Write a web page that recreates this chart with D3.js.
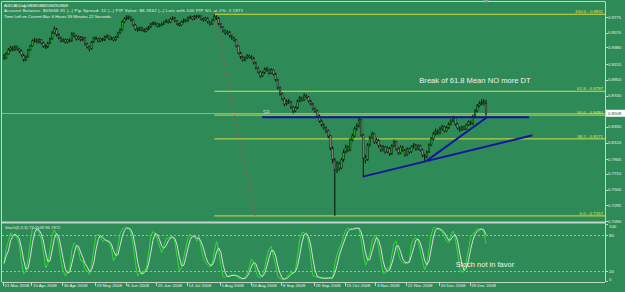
<!DOCTYPE html>
<html>
<head>
<meta charset="utf-8">
<script src="https://cdn.jsdelivr.net/npm/d3@7"></script>
<style>
  body { margin: 0; background: #2e8b57; }
  svg { display: block; font-family: "Liberation Sans", Arial, sans-serif; }
</style>
</head>
<body>
<div id="chart"></div>
<script>
// AUDCAD daily bars (open = previous close)
const firstOpen = 0.9262;
const closes = [
  .9236,.9288,.9341,.9367,.9341,.9380,.9354,.9328,.9275,.9209,
  .9249,.9341,.9394,.9459,.9473,.9446,.9473,.9433,.9394,.9380,
  .9433,.9486,.9565,.9617,.9538,.9499,.9459,.9473,.9446,.9473,
  .9459,.9552,.9525,.9486,.9512,.9473,.9499,.9420,.9380,.9354,
  .9446,.9499,.9486,.9459,.9486,.9473,.9512,.9525,.9486,.9499,
  .9473,.9512,.9565,.9604,.9709,.9749,.9775,.9762,.9736,.9670,
  .9617,.9604,.9631,.9604,.9591,.9617,.9644,.9683,.9696,.9683,
  .9657,.9670,.9683,.9709,.9723,.9709,.9749,.9762,.9723,.9683,
  .9670,.9709,.9736,.9723,.9762,.9775,.9749,.9788,.9775,.9788,
  .9749,.9736,.9762,.9709,.9683,.9736,.9775,.9762,.9683,.9644,
  .9591,.9565,.9578,.9525,.9499,.9473,.9394,.9302,.9249,.9209,
  .9236,.9262,.9249,.9236,.9170,.9104,.9051,.8999,.9038,.9091,
  .9078,.9038,.9078,.9025,.8946,.8841,.8762,.8696,.8630,.8670,
  .8657,.8591,.8538,.8578,.8670,.8709,.8683,.8736,.8722,.8670,
  .8630,.8565,.8538,.8472,.8407,.8354,.8315,.8275,.8209,.8051,
  .7893,.7762,.7841,.7788,.7893,.7999,.8064,.8025,.8157,.8209,
  .8301,.8341,.8420,.8222,.7920,.7893,.8091,.8183,.8236,.8130,
  .8157,.8078,.8025,.8064,.7999,.8051,.7972,.8078,.8130,.8038,
  .7986,.8064,.8025,.7959,.8038,.7999,.8064,.8091,.8038,.8078,
  .8025,.7959,.7933,.7999,.8091,.8170,.8236,.8275,.8249,.8301,
  .8328,.8275,.8315,.8367,.8407,.8446,.8367,.8315,.8288,.8328,
  .8301,.8354,.8393,.8367,.8472,.8538,.8604,.8630,.8657,.8639,
  .8508
];
const highs = [
  .9290,.9310,.9365,.9395,.9390,.9402,.9398,.9370,.9345,.9290,
  .9270,.9355,.9410,.9480,.9500,.9490,.9495,.9485,.9450,.9415,
  .9450,.9505,.9590,.9650,.9630,.9560,.9515,.9495,.9490,.9490,
  .9495,.9575,.9570,.9540,.9530,.9525,.9520,.9510,.9435,.9395,
  .9460,.9515,.9520,.9500,.9505,.9500,.9530,.9545,.9535,.9515,
  .9510,.9530,.9580,.9625,.9730,.9770,.9800,.9795,.9780,.9750,
  .9685,.9640,.9650,.9645,.9625,.9635,.9660,.9700,.9715,.9715,
  .9695,.9690,.9700,.9725,.9745,.9740,.9765,.9785,.9775,.9735,
  .9700,.9725,.9755,.9750,.9780,.9795,.9785,.9800,.9805,.9802,
  .9795,.9765,.9778,.9770,.9720,.9750,.9811,.9795,.9770,.9695,
  .9655,.9610,.9600,.9590,.9540,.9515,.9485,.9405,.9320,.9265,
  .9255,.9285,.9280,.9270,.9250,.9185,.9120,.9065,.9060,.9110,
  .9120,.9095,.9100,.9090,.9040,.8960,.8860,.8780,.8715,.8690,
  .8695,.8670,.8605,.8600,.8690,.8735,.8725,.8770,.8755,.8735,
  .8685,.8645,.8585,.8555,.8490,.8425,.8375,.8335,.8295,.8225,
  .8070,.7920,.7880,.7870,.7920,.8030,.8095,.8085,.8180,.8240,
  .8330,.8375,.8459,.8435,.8240,.7960,.8115,.8215,.8265,.8250,
  .8185,.8170,.8095,.8090,.8080,.8075,.8065,.8100,.8160,.8145,
  .8055,.8085,.8080,.8040,.8060,.8055,.8085,.8115,.8105,.8100,
  .8095,.8040,.7975,.8020,.8110,.8195,.8265,.8305,.8295,.8330,
  .8355,.8345,.8340,.8390,.8430,.8475,.8460,.8380,.8330,.8345,
  .8345,.8370,.8415,.8410,.8490,.8565,.8630,.8665,.8690,.8695,
  .8682
];
const lows = [
  .9210,.9220,.9275,.9320,.9325,.9330,.9335,.9300,.9255,.9185,
  .9195,.9240,.9330,.9385,.9440,.9430,.9430,.9415,.9370,.9355,
  .9365,.9420,.9475,.9550,.9520,.9480,.9440,.9445,.9425,.9430,
  .9440,.9450,.9505,.9465,.9470,.9455,.9460,.9400,.9360,.9320,
  .9345,.9435,.9470,.9440,.9445,.9455,.9460,.9495,.9470,.9470,
  .9455,.9460,.9500,.9550,.9595,.9695,.9730,.9740,.9715,.9650,
  .9595,.9580,.9590,.9585,.9570,.9575,.9600,.9630,.9665,.9665,
  .9640,.9640,.9655,.9670,.9695,.9690,.9695,.9735,.9705,.9665,
  .9650,.9655,.9695,.9705,.9710,.9745,.9730,.9735,.9755,.9760,
  .9730,.9715,.9720,.9690,.9660,.9670,.9725,.9740,.9665,.9625,
  .9570,.9540,.9545,.9505,.9475,.9450,.9375,.9285,.9225,.9190,
  .9195,.9220,.9230,.9215,.9150,.9085,.9030,.8975,.8985,.9025,
  .9055,.9015,.9025,.9005,.8925,.8820,.8740,.8675,.8600,.8610,
  .8630,.8565,.8505,.8520,.8565,.8655,.8660,.8670,.8700,.8650,
  .8610,.8545,.8510,.8450,.8385,.8330,.8290,.8250,.8180,.8020,
  .7850,.7157,.7720,.7750,.7770,.7870,.7980,.7995,.8010,.8135,
  .8190,.8280,.8320,.8200,.7669,.7850,.7880,.8070,.8160,.8105,
  .8110,.8055,.7995,.8005,.7975,.7985,.7945,.7960,.8060,.8015,
  .7960,.7970,.8000,.7935,.7945,.7975,.7985,.8045,.8015,.8020,
  .8005,.7935,.7880,.7915,.7985,.8075,.8150,.8215,.8225,.8230,
  .8280,.8255,.8260,.8300,.8350,.8390,.8345,.8295,.8265,.8275,
  .8285,.8290,.8340,.8350,.8355,.8455,.8520,.8585,.8615,.8610,
  .8474
];

// axis labels
const dateTickBars = [0, 13, 27, 42, 56, 70, 84, 99, 113, 127, 142, 156, 170, 184, 199, 213];
const dateTickLabels = ["21 Mar 2008", "10 Apr 2008", "30 Apr 2008", "19 May 2008", "6 Jun 2008",
  "25 Jun 2008", "14 Jul 2008", "1 Aug 2008", "20 Aug 2008", "8 Sep 2008", "26 Sep 2008",
  "15 Oct 2008", "3 Nov 2008", "21 Nov 2008", "10 Dec 2008", "29 Dec 2008"];
const priceTicks = [0.9775, 0.9570, 0.9380, 0.9155, 0.8950, 0.8740, 0.8330, 0.8120,
  0.7905, 0.7710, 0.7500, 0.7295, 0.7090];
const stochTicks = [100, 80, 20, 0];
const stochLevels = [80, 20];
const lastPrice = 0.8508;

// drawn objects
const fibLevels = [100, 61.8, 50, 38.2, 0];
const fibHigh = { bar: 96, price: 0.9811 };
const fibLow = { bar: 114.6, price: 0.7157 };
const srLine = { bar0: 117.8, bar1: 239.7, price: 0.8455 };
const trendLines = [
  { bar0: 163.8, p0: 0.7674, bar1: 241.2, p1: 0.8218 },
  { bar0: 193.0, p0: 0.7884, bar1: 220.4, p1: 0.8455 }
];

const W = 625, H = 292;
const left = 2, right = 605, mainTop = 2, mainBottom = 222, stochTop = 224, stochBottom = 282;

const svg = d3.select("#chart").append("svg")
  .attr("width", W)
  .attr("height", H);

svg.append("rect").attr("width", W).attr("height", H).attr("fill", "#2e8b57");

// scales
const x = d3.scaleLinear().domain([0, closes.length - 1]).range([4, 486]);
const y = d3.scaleLinear().domain([0.7090, 0.9775]).range([221, 17]);
const ys = d3.scaleLinear().domain([0, 100]).range([283, 223]);

const defs = svg.append("defs");
defs.append("clipPath").attr("id", "clipMain")
  .append("rect").attr("x", left).attr("y", mainTop).attr("width", right - left).attr("height", mainBottom - mainTop);
defs.append("clipPath").attr("id", "clipStoch")
  .append("rect").attr("x", left).attr("y", stochTop).attr("width", right - left).attr("height", stochBottom - stochTop);

const main = svg.append("g").attr("clip-path", "url(#clipMain)");

// bid line
main.append("line")
  .attr("x1", left).attr("x2", right)
  .attr("y1", Math.round(y(lastPrice)) + 0.5).attr("y2", Math.round(y(lastPrice)) + 0.5)
  .attr("stroke", "#98aaa6").attr("stroke-width", 1);

// fibonacci retracement
const fibRange = fibHigh.price - fibLow.price;
main.selectAll(".fib")
  .data(fibLevels)
  .enter().append("line")
  .attr("class", "fib")
  .attr("x1", x(fibHigh.bar)).attr("x2", right)
  .attr("y1", d => y(fibLow.price + fibRange * d / 100))
  .attr("y2", d => y(fibLow.price + fibRange * d / 100))
  .attr("stroke", "#d4dc48").attr("stroke-width", 1);

main.selectAll(".fib-label")
  .data(fibLevels)
  .enter().append("text")
  .attr("class", "fib-label")
  .attr("x", 603)
  .attr("y", d => y(fibLow.price + fibRange * d / 100) - 1.2)
  .attr("text-anchor", "end")
  .attr("font-size", 4.4)
  .attr("fill", "#e4e84a")
  .text(d => `${d.toFixed(1)} - ${(fibLow.price + fibRange * d / 100).toFixed(4)}`);

main.append("line")
  .attr("x1", x(fibHigh.bar)).attr("y1", y(fibHigh.price))
  .attr("x2", x(fibLow.bar)).attr("y2", y(fibLow.price))
  .attr("stroke", "#d0483c").attr("stroke-width", 1)
  .attr("stroke-dasharray", "1.2,2");

// candles
const bars = closes.map((c, i) => ({
  i: i,
  open: i ? closes[i - 1] : firstOpen,
  high: highs[i],
  low: lows[i],
  close: c
}));

const candle = main.selectAll(".bar")
  .data(bars)
  .enter().append("g")
  .attr("class", "bar");

candle.append("line")
  .attr("x1", d => x(d.i)).attr("x2", d => x(d.i))
  .attr("y1", d => y(d.high)).attr("y2", d => y(d.low))
  .attr("stroke", "#061006").attr("stroke-width", 1);

candle.append("rect")
  .attr("x", d => x(d.i) - 0.8)
  .attr("width", 1.6)
  .attr("y", d => y(Math.max(d.open, d.close)))
  .attr("height", d => Math.max(0.8, Math.abs(y(d.open) - y(d.close))))
  .attr("fill", d => d.close >= d.open ? "#22a822" : "#858585")
  .attr("stroke", "#0a160a").attr("stroke-width", 0.45);

// trend lines
main.append("line")
  .attr("x1", x(srLine.bar0)).attr("x2", x(srLine.bar1))
  .attr("y1", y(srLine.price)).attr("y2", y(srLine.price))
  .attr("stroke", "#15159a").attr("stroke-width", 2);

main.append("text")
  .attr("x", x(srLine.bar0) + 1)
  .attr("y", y(srLine.price) - 3)
  .attr("font-size", 4.6)
  .attr("fill", "#c8d4cc")
  .text("SR");

main.selectAll(".trend")
  .data(trendLines)
  .enter().append("line")
  .attr("class", "trend")
  .attr("x1", d => x(d.bar0)).attr("y1", d => y(d.p0))
  .attr("x2", d => x(d.bar1)).attr("y2", d => y(d.p1))
  .attr("stroke", "#15159a").attr("stroke-width", 2);

main.append("text")
  .attr("x", 475).attr("y", 83.3)
  .attr("text-anchor", "middle")
  .attr("font-size", 7.6)
  .attr("fill", "#eef2ee")
  .text("Break of 61.8 Mean NO more DT");

// header lines
const header = svg.append("g").attr("fill", "#f2f2f2").attr("font-size", 4.2);
header.append("text").attr("x", 4).attr("y", 7.3).attr("textLength", 64)
  .text("AUDCAD,Daily  0.8639 0.8682 0.8474 0.8508");
header.append("text").attr("x", 4).attr("y", 12.2).attr("textLength", 239)
  .text("Account Balance:  $69068.91  |--|  Pip Spread:  12  |--|  PIP Value:  $8.3942  |--|  Lots with 100 PIP S/L at 2%:  2.1871");
header.append("text").attr("x", 4).attr("y", 17.5).attr("textLength", 107)
  .text("Time Left on Current Bar: 6 Hours 59 Minutes 22 Seconds");

// stochastic (5,3,3) from the bars
const kPeriod = 5, slowing = 3, dPeriod = 3;
const hh = highs.map((h, i) => d3.max(highs.slice(Math.max(0, i - kPeriod + 1), i + 1)));
const ll = lows.map((l, i) => d3.min(lows.slice(Math.max(0, i - kPeriod + 1), i + 1)));
const stochMain = closes.map((c, i) => {
  let num = 0, den = 0;
  for (let j = Math.max(0, i - slowing + 1); j <= i; j++) {
    num += closes[j] - ll[j];
    den += hh[j] - ll[j];
  }
  return den ? 100 * num / den : 50;
});
const stochSignal = stochMain.map((v, i) => d3.mean(stochMain.slice(Math.max(0, i - dPeriod + 1), i + 1)));

const stoch = svg.append("g").attr("clip-path", "url(#clipStoch)");

stoch.selectAll(".level")
  .data(stochLevels)
  .enter().append("line")
  .attr("class", "level")
  .attr("x1", left).attr("x2", right)
  .attr("y1", d => Math.round(ys(d)) + 0.5).attr("y2", d => Math.round(ys(d)) + 0.5)
  .attr("stroke", "#b8c8bc").attr("stroke-width", 0.8)
  .attr("stroke-dasharray", "2,2");

const stochLine = d3.line()
  .x((d, i) => x(i))
  .y(d => ys(d));

stoch.append("path")
  .datum(stochMain)
  .attr("d", stochLine)
  .attr("fill", "none")
  .attr("stroke", "#2ee02e")
  .attr("stroke-width", 1);

stoch.append("path")
  .datum(stochSignal)
  .attr("d", stochLine)
  .attr("fill", "none")
  .attr("stroke", "#d8dcd8")
  .attr("stroke-width", 1);

svg.append("text")
  .attr("x", 5).attr("y", 229)
  .attr("font-size", 4.2)
  .attr("fill", "#e0e6e0")
  .text("Stoch(5,3,3) 73.2549 86.7872");

svg.append("text")
  .attr("x", 485).attr("y", 266.5)
  .attr("text-anchor", "middle")
  .attr("font-size", 7.5)
  .attr("fill", "#eef2ee")
  .text("Stoch not in favor");

// frame
const frame = svg.append("g").attr("stroke", "#c4d4c8").attr("fill", "none");
frame.append("line").attr("x1", left).attr("x2", right).attr("y1", 1.5).attr("y2", 1.5);
frame.append("line").attr("x1", 1.5).attr("x2", 1.5).attr("y1", 1.5).attr("y2", stochBottom);
frame.append("line").attr("x1", right + 0.5).attr("x2", right + 0.5).attr("y1", 1.5).attr("y2", stochBottom);
frame.append("line").attr("x1", left).attr("x2", right).attr("y1", 222.5).attr("y2", 222.5).attr("stroke-width", 2);
frame.append("line").attr("x1", left).attr("x2", right).attr("y1", stochBottom + 0.5).attr("y2", stochBottom + 0.5);

// chart shift marker
svg.append("path")
  .attr("d", `M${x(220) - 3},0 L${x(220) + 3},0 L${x(220)},3 Z`)
  .attr("fill", "#8a9a9a");

// price axis
const priceAxis = svg.append("g").attr("font-size", 4.3).attr("fill", "#eef2ee");
priceAxis.selectAll(".ptick")
  .data(priceTicks)
  .enter().append("line")
  .attr("x1", right).attr("x2", right + 3)
  .attr("y1", d => Math.round(y(d)) + 0.5).attr("y2", d => Math.round(y(d)) + 0.5)
  .attr("stroke", "#c4d4c8");
priceAxis.selectAll(".plabel")
  .data(priceTicks)
  .enter().append("text")
  .attr("x", 608)
  .attr("y", d => y(d) + 1.6)
  .text(d => d.toFixed(4));

priceAxis.append("rect")
  .attr("x", 606).attr("y", y(lastPrice) - 3.5)
  .attr("width", 19).attr("height", 7)
  .attr("fill", "#ffffff");
priceAxis.append("text")
  .attr("x", 608).attr("y", y(lastPrice) + 1.6)
  .attr("fill", "#1a3a2a")
  .text(lastPrice.toFixed(4));

// stoch axis
const stochAxis = svg.append("g").attr("font-size", 4.3).attr("fill", "#eef2ee");
stochAxis.selectAll("text")
  .data(stochTicks)
  .enter().append("text")
  .attr("x", 609)
  .attr("y", d => Math.min(280.5, Math.max(228, ys(d) + 1.6)))
  .text(d => d);
stochAxis.selectAll("line")
  .data(stochTicks)
  .enter().append("line")
  .attr("x1", right).attr("x2", right + 3)
  .attr("y1", d => Math.min(281.5, Math.max(224.5, Math.round(ys(d)) + 0.5)))
  .attr("y2", d => Math.min(281.5, Math.max(224.5, Math.round(ys(d)) + 0.5)))
  .attr("stroke", "#c4d4c8");

// date axis
const dateAxis = svg.append("g").attr("font-size", 4.4).attr("fill", "#eef2ee");
dateAxis.selectAll("line")
  .data(dateTickBars)
  .enter().append("line")
  .attr("x1", d => Math.round(x(d)) - 0.5).attr("x2", d => Math.round(x(d)) - 0.5)
  .attr("y1", stochBottom).attr("y2", stochBottom + 4)
  .attr("stroke", "#c4d4c8");
dateAxis.selectAll("text")
  .data(dateTickBars)
  .enter().append("text")
  .attr("x", d => x(d) + 0.5)
  .attr("y", 286.5)
  .text((d, i) => dateTickLabels[i]);
</script>
</body>
</html>
